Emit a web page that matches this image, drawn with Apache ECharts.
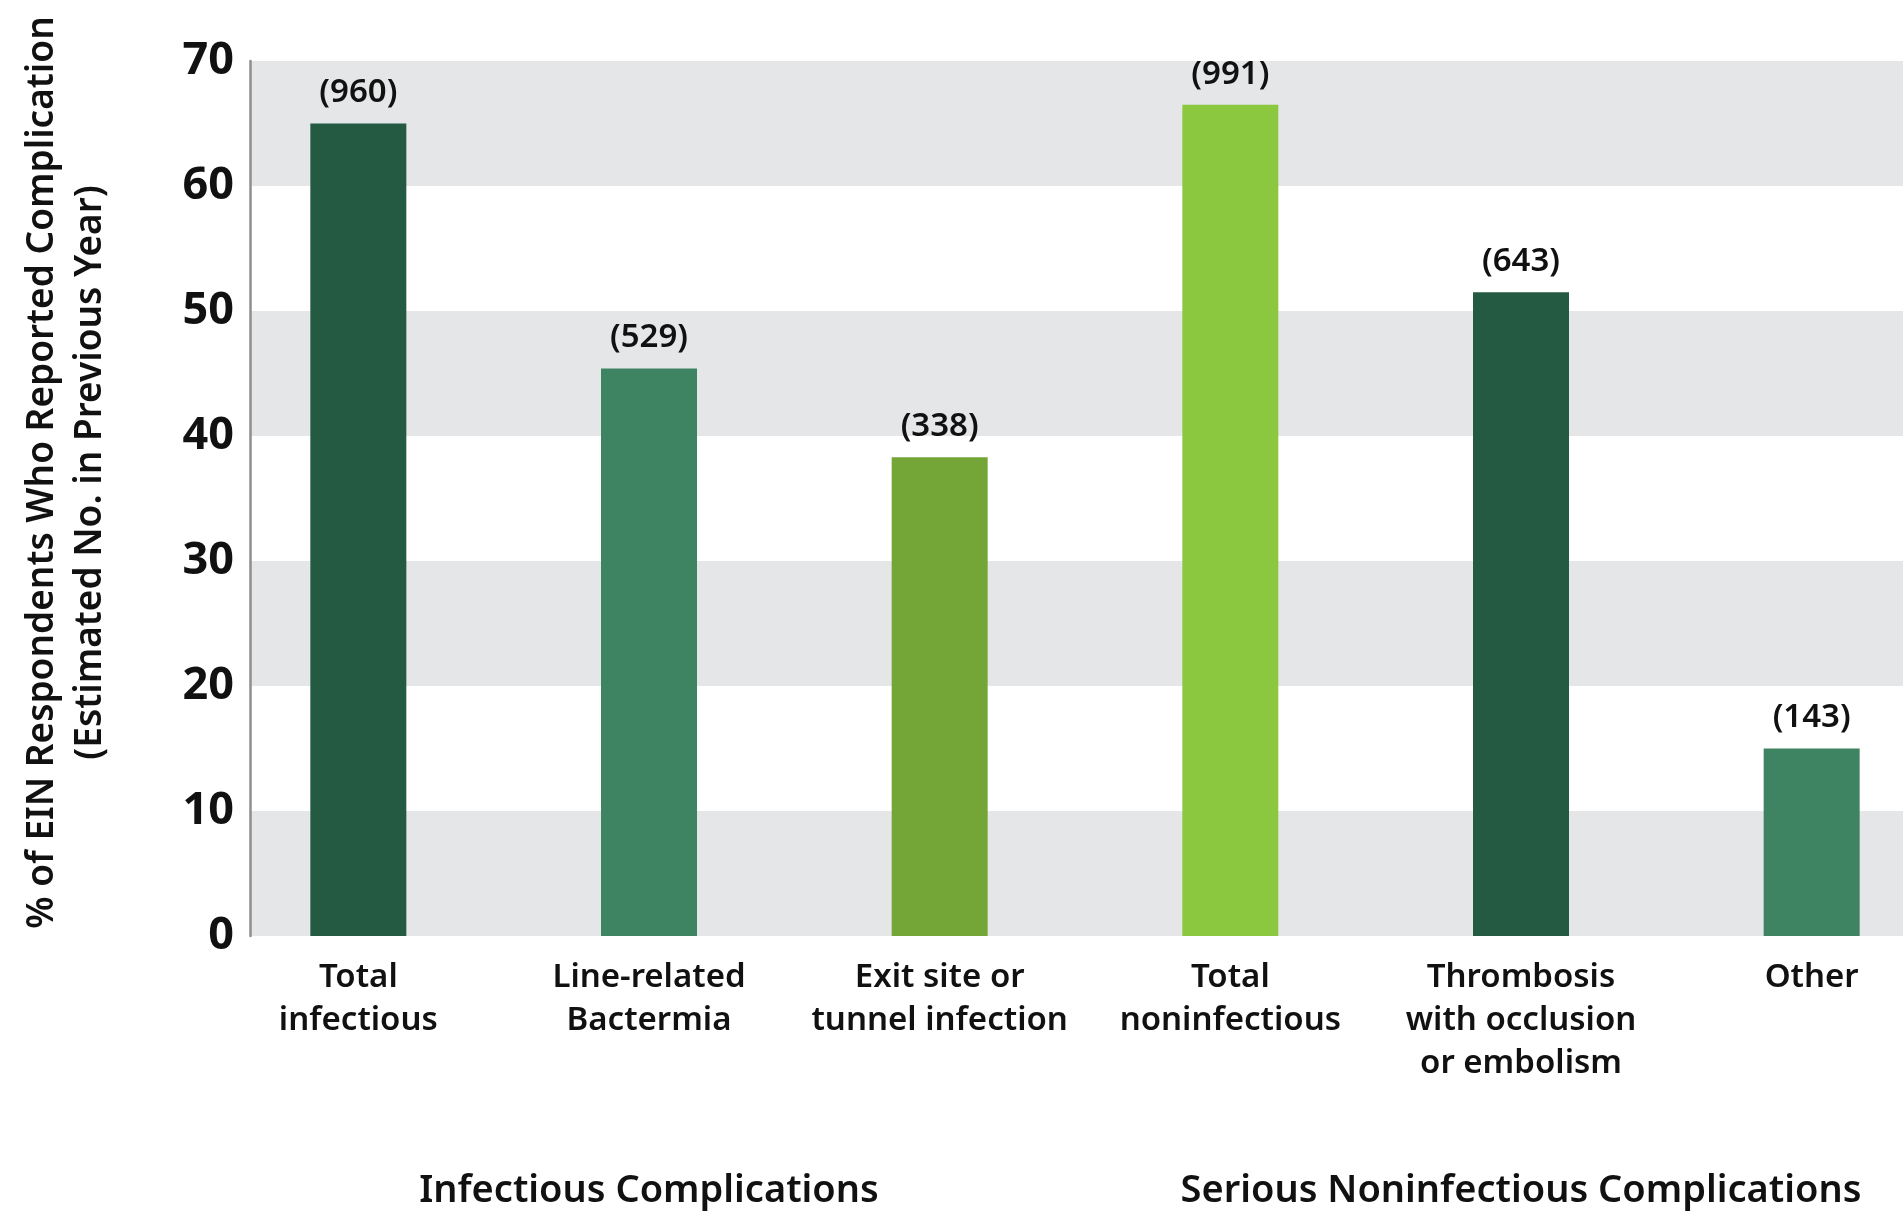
<!DOCTYPE html>
<html>
<head>
<meta charset="utf-8">
<script src="https://cdn.jsdelivr.net/npm/echarts@6/dist/echarts.min.js"></script>
<style>
  html, body { margin: 0; padding: 0; background: #ffffff; }
  #chart { width: 1903px; height: 1214px; }
</style>
</head>
<body>
<div id="chart"></div>
<script>
// Complication categories, in the order they are drawn
const categories = [
  'Total\ninfectious',
  'Line-related\nBactermia',
  'Exit site or\ntunnel infection',
  'Total\nnoninfectious',
  'Thrombosis\nwith occlusion\nor embolism',
  'Other'
];
// Group headings sit under the middle bar of each group
const groupLabels = ['', 'Infectious Complications', '', '', 'Serious Noninfectious Complications', ''];
// % of respondents reporting each complication
const percentValues = [65.0, 45.4, 38.3, 66.5, 51.5, 15.0];
// Estimated number of cases in the previous year
const estimatedCounts = [960, 529, 338, 991, 643, 143];
const barColors = ['#235a41', '#3e8463', '#73a637', '#8cc83f', '#235a41', '#3e8463'];
const yMin = 0, yMax = 70, yStep = 10;

const FONT = '"Noto Sans", "Open Sans", sans-serif';
const chart = echarts.init(document.getElementById('chart'), null, { renderer: 'canvas' });

chart.setOption({
  animation: false,
  backgroundColor: '#ffffff',
  textStyle: { fontFamily: FONT, color: '#111111' },
  grid: [
    // background bands + value axis
    { left: 250, right: 0, top: 61, bottom: 278, outerBoundsMode: 'none', containLabel: false },
    // bars + category labels
    { left: 213, width: 1744, top: 61, bottom: 278, outerBoundsMode: 'none', containLabel: false }
  ],
  xAxis: [
    { type: 'value', gridIndex: 0, show: false, min: 0, max: 1 },
    {
      type: 'category', gridIndex: 1, data: categories,
      axisLine: { show: false }, axisTick: { show: false },
      axisLabel: {
        interval: 0, margin: 20, color: '#111111',
        fontFamily: FONT, fontSize: 33, fontWeight: 600, lineHeight: 43
      }
    },
    {
      type: 'category', gridIndex: 1, data: groupLabels, position: 'bottom', offset: 220,
      axisLine: { show: false }, axisTick: { show: false },
      axisLabel: {
        interval: 0, margin: 12, color: '#111111',
        fontFamily: FONT, fontSize: 38, fontWeight: 600, lineHeight: 46
      }
    }
  ],
  yAxis: [
    {
      type: 'value', gridIndex: 0, min: yMin, max: yMax, interval: yStep,
      axisLine: { show: true, lineStyle: { color: '#8e8e8e', width: 2.5 } },
      axisTick: { show: false },
      splitLine: { show: false },
      splitArea: { show: true, areaStyle: { color: ['#e5e6e8', '#ffffff'] } },
      axisLabel: {
        margin: 16, color: '#111111', fontFamily: FONT, fontSize: 45, fontWeight: 'bold',
        padding: [4, 0, 0, 0]
      },
      name: '{a|% of EIN Respondents Who Reported Complication}\n{b|(Estimated No. in Previous Year)}',
      nameLocation: 'middle',
      nameRotate: 90,
      nameGap: 136,
      nameTextStyle: {
        padding: [0, 0, 0, 52],
        rich: {
          a: { fontFamily: FONT, fontSize: 37, fontWeight: 600, lineHeight: 48, color: '#111111' },
          b: { fontFamily: FONT, fontSize: 37, fontWeight: 600, lineHeight: 48, color: '#111111' }
        }
      }
    },
    { type: 'value', gridIndex: 1, min: yMin, max: yMax, interval: yStep, show: false }
  ],
  series: [
    {
      type: 'bar',
      xAxisIndex: 1,
      yAxisIndex: 1,
      barWidth: 96,
      data: percentValues.map((v, i) => ({ value: v, itemStyle: { color: barColors[i] } })),
      label: {
        show: true,
        position: 'top',
        distance: 14,
        formatter: p => '(' + estimatedCounts[p.dataIndex] + ')',
        fontFamily: FONT, fontSize: 33, fontWeight: 600, color: '#111111'
      }
    }
  ]
});
</script>
</body>
</html>
